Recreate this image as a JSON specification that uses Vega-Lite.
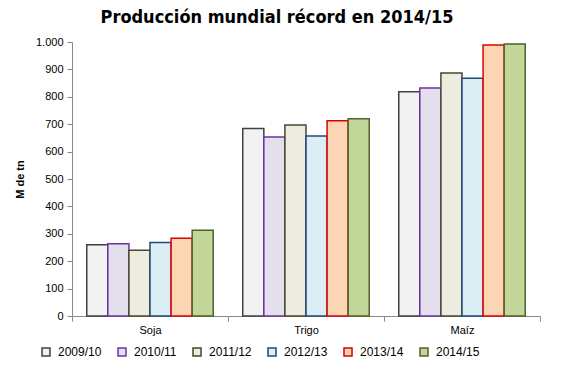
{
  "$schema": "https://vega.github.io/schema/vega-lite/v6.json",
  "width": 468,
  "height": 274,
  "autosize": {"type": "none"},
  "padding": {"left": 72, "top": 42, "right": 27, "bottom": 54},
  "background": "white",
  "title": {
    "text": "Producción mundial récord en 2014/15",
    "font": "DejaVu Sans Condensed",
    "fontSize": 18,
    "fontWeight": "bold",
    "color": "black",
    "anchor": "middle",
    "dx": -29,
    "offset": 9
  },
  "data": {
    "values": [
      {"cultivo": "Soja", "campaña": "2009/10", "valor": 260},
      {"cultivo": "Soja", "campaña": "2010/11", "valor": 264},
      {"cultivo": "Soja", "campaña": "2011/12", "valor": 240},
      {"cultivo": "Soja", "campaña": "2012/13", "valor": 268},
      {"cultivo": "Soja", "campaña": "2013/14", "valor": 284},
      {"cultivo": "Soja", "campaña": "2014/15", "valor": 313},
      {"cultivo": "Trigo", "campaña": "2009/10", "valor": 684},
      {"cultivo": "Trigo", "campaña": "2010/11", "valor": 653},
      {"cultivo": "Trigo", "campaña": "2011/12", "valor": 697},
      {"cultivo": "Trigo", "campaña": "2012/13", "valor": 657},
      {"cultivo": "Trigo", "campaña": "2013/14", "valor": 713},
      {"cultivo": "Trigo", "campaña": "2014/15", "valor": 720},
      {"cultivo": "Maíz", "campaña": "2009/10", "valor": 818},
      {"cultivo": "Maíz", "campaña": "2010/11", "valor": 832},
      {"cultivo": "Maíz", "campaña": "2011/12", "valor": 887},
      {"cultivo": "Maíz", "campaña": "2012/13", "valor": 868},
      {"cultivo": "Maíz", "campaña": "2013/14", "valor": 989},
      {"cultivo": "Maíz", "campaña": "2014/15", "valor": 993}
    ]
  },
  "mark": {"type": "bar", "strokeWidth": 1.5},
  "encoding": {
    "x": {
      "field": "cultivo",
      "type": "nominal",
      "sort": ["Soja", "Trigo", "Maíz"],
      "scale": {"paddingInner": 0, "paddingOuter": 0},
      "axis": {
        "title": null,
        "labelAngle": 0,
        "labelFont": "Liberation Sans",
        "labelFontSize": 11,
        "labelColor": "black",
        "tickBand": "extent",
        "tickSize": 5,
        "tickColor": "#888888",
        "domainColor": "#888888",
        "labelPadding": 3
      }
    },
    "xOffset": {
      "field": "campaña",
      "type": "nominal",
      "scale": {"paddingInner": 0, "paddingOuter": 0.7}
    },
    "y": {
      "field": "valor",
      "type": "quantitative",
      "scale": {"domain": [0, 1000], "nice": false},
      "axis": {
        "title": "M de tn",
        "titleFont": "Liberation Sans",
        "titleFontSize": 11,
        "titleFontWeight": "bold",
        "titleColor": "black",
        "titlePadding": 10,
        "values": [0, 100, 200, 300, 400, 500, 600, 700, 800, 900, 1000],
        "labelExpr": "datum.value == 1000 ? '1.000' : datum.label",
        "labelFont": "Liberation Sans",
        "labelFontSize": 11,
        "labelColor": "black",
        "grid": false,
        "tickSize": 5,
        "tickColor": "#888888",
        "domainColor": "#888888",
        "labelPadding": 4
      }
    },
    "fill": {
      "field": "campaña",
      "type": "nominal",
      "scale": {
        "domain": ["2009/10", "2010/11", "2011/12", "2012/13", "2013/14", "2014/15"],
        "range": ["#F2F2F2", "#E4DFEC", "#EEECE1", "#DAEEF3", "#FCD5B4", "#C4D79B"]
      },
      "legend": {
        "title": null,
        "orient": "none",
        "direction": "horizontal",
        "legendX": -32,
        "legendY": 304,
        "columns": 6,
        "symbolType": "square",
        "symbolSize": 64,
        "symbolStrokeWidth": 1.5,
        "labelFont": "Liberation Sans",
        "labelFontSize": 12,
        "labelColor": "black",
        "columnPadding": 13,
        "labelOffset": 6
      }
    },
    "stroke": {
      "field": "campaña",
      "type": "nominal",
      "scale": {
        "domain": ["2009/10", "2010/11", "2011/12", "2012/13", "2013/14", "2014/15"],
        "range": ["#404040", "#7030A0", "#4A452A", "#1F497D", "#E00000", "#4F6228"]
      },
      "legend": null
    }
  },
  "config": {
    "view": {"stroke": null}
  }
}
